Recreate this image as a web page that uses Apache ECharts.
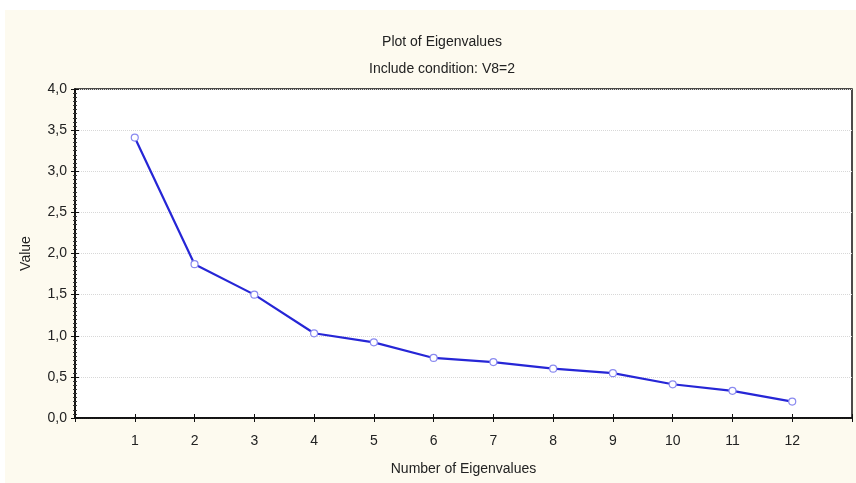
<!DOCTYPE html>
<html>
<head>
<meta charset="utf-8">
<script src="https://cdn.jsdelivr.net/npm/echarts@6/dist/echarts.min.js"></script>
<style>
  html, body { margin: 0; padding: 0; background: #fff; }
  #chart { width: 856px; height: 483px; }
</style>
</head>
<body>
<div id="chart"></div>
<script>
// eigenvalue number and value
const eigenNumbers = [1, 2, 3, 4, 5, 6, 7, 8, 9, 10, 11, 12];
const eigenValues = [3.41, 1.87, 1.50, 1.03, 0.92, 0.73, 0.68, 0.60, 0.545, 0.41, 0.33, 0.20];
const xLabels = ['1', '2', '3', '4', '5', '6', '7', '8', '9', '10', '11', '12'];

const font = '"Liberation Sans Narrow", "Liberation Sans", Arial, sans-serif';

const chart = echarts.init(document.getElementById('chart'));

const points = eigenNumbers.map((n, i) => [n, eigenValues[i]]);

const yLabel = v => v.toFixed(1).replace('.', ',');
const xLabel = v => (v >= 1 && v <= 12 ? xLabels[v - 1] : '');

const option = {
  animation: false,
  backgroundColor: '#fff',
  graphic: [{
    type: 'rect',
    z: -10,
    shape: { x: 5, y: 10, width: 851, height: 473 },
    style: { fill: '#fdfaef' }
  }],
  title: [
    {
      text: 'Plot of Eigenvalues',
      left: 437, top: 30, textAlign: 'center',
      textStyle: { fontFamily: font, fontSize: 14, fontWeight: 'normal', color: '#222' }
    },
    {
      text: 'Include condition: V8=2',
      left: 437, top: 57, textAlign: 'center',
      textStyle: { fontFamily: font, fontSize: 14, fontWeight: 'normal', color: '#222' }
    }
  ],
  grid: {
    left: 75, top: 89, right: 4, bottom: 65,
    show: true, backgroundColor: '#fff', borderColor: '#111', borderWidth: 1.5
  },
  xAxis: [
    {
      type: 'value', min: 0, max: 13, interval: 1,
      position: 'bottom',
      name: 'Number of Eigenvalues', nameLocation: 'middle', nameGap: 44,
      nameTextStyle: { fontFamily: font, fontSize: 14, color: '#222' },
      axisLine: { show: true, lineStyle: { color: '#111', width: 1.5 } },
      axisTick: { show: true, inside: true, length: 4, lineStyle: { color: '#111' } },
      axisLabel: { formatter: xLabel, fontFamily: font, fontSize: 14, color: '#222', margin: 16 },
      splitLine: { show: false }
    },
    {
      type: 'value', min: 0, max: 13, interval: 1,
      position: 'top',
      axisLine: { show: true, lineStyle: { color: '#111', width: 1.5 } },
      axisTick: { show: true, inside: true, length: 4, lineStyle: { color: '#111' } },
      axisLabel: { show: false },
      splitLine: { show: false }
    }
  ],
  yAxis: [
    {
      type: 'value', min: 0, max: 4, interval: 0.5,
      position: 'left',
      name: 'Value', nameLocation: 'middle', nameGap: 42, nameRotate: 90,
      nameTextStyle: { fontFamily: font, fontSize: 14, color: '#222' },
      axisLine: { show: true, lineStyle: { color: '#111', width: 1.5 } },
      axisTick: { show: true, inside: true, length: 4, lineStyle: { color: '#111' } },
      minorTick: { show: true, splitNumber: 10, length: 2, lineStyle: { color: '#333' } },
      axisLabel: { formatter: yLabel, fontFamily: font, fontSize: 14, color: '#222', margin: 8 },
      splitLine: { show: true, lineStyle: { color: '#d8d8d8', type: 'dotted', width: 1 } }
    },
    {
      type: 'value', min: 0, max: 4, interval: 0.5,
      position: 'right',
      axisLine: { show: true, lineStyle: { color: '#111', width: 1.5 } },
      axisTick: { show: true, inside: true, length: 4, lineStyle: { color: '#111' } },
      minorTick: { show: true, splitNumber: 10, length: 2, lineStyle: { color: '#333' } },
      axisLabel: { show: false },
      splitLine: { show: false }
    }
  ],
  series: [{
    type: 'line',
    data: points,
    symbol: 'circle',
    symbolSize: 7,
    lineStyle: { color: '#2626d6', width: 2.2 },
    itemStyle: { color: '#fff', borderColor: '#8a8af0', borderWidth: 1.2 },
    z: 5
  }]
};

chart.setOption(option);
</script>
</body>
</html>
